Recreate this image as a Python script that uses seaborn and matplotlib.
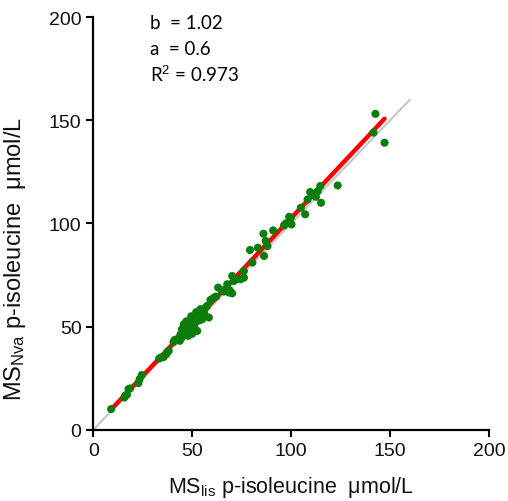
import numpy as np
import pandas as pd
import matplotlib
matplotlib.use("Agg")
import matplotlib.pyplot as plt
import seaborn as sns

# ---- data ----
ms_lis = [9.0, 15.7, 16.1, 17.0, 17.8, 18.6, 22.8, 23.4, 24.5, 33.3, 34.2, 35.5,
          36.9, 38.1, 37.5, 41.1, 42.3, 43.7, 44.8, 40.5,
          44.8, 45.7, 46.5, 47.4, 48.2, 49.1, 49.9, 50.8, 51.6, 52.5, 51.6, 53.3,
          54.1, 55.0, 55.8, 56.7, 58.4, 57.5, 48.0, 50.0, 53.0, 52.0, 54.5, 47.0,
          46.0, 49.5, 51.0, 56.0, 53.5, 44.0,
          59.2, 60.9, 62.0, 63.1, 65.1, 66.8, 68.5, 70.2, 67.7, 66.0, 69.0,
          70.2, 71.1, 74.4, 76.1, 76.1, 72.5,
          79.2, 80.4, 83.2, 86.0, 86.3, 87.1, 88.0, 90.9,
          96.4, 97.3, 99.0, 99.8, 100.2,
          104.9, 107.1, 108.3, 109.6, 112.5, 113.4, 114.7, 115.1, 111.5,
          123.5, 141.6, 142.6, 147.2]
ms_nva = [10.0, 15.6, 16.5, 17.0, 19.7, 20.0, 22.6, 24.5, 26.5, 34.5, 35.0, 35.2,
          36.6, 38.2, 37.8, 43.5, 43.9, 43.1, 44.7, 42.5,
          48.7, 51.1, 47.1, 49.5, 51.9, 48.7, 53.5, 50.3, 55.2, 47.9, 51.9, 56.8,
          58.4, 53.5, 57.6, 59.2, 54.4, 60.0, 45.5, 46.5, 55.0, 57.0, 55.5, 52.5,
          49.0, 55.0, 49.0, 56.5, 53.0, 46.0,
          62.9, 64.0, 64.5, 68.9, 67.3, 68.1, 66.5, 66.1, 70.5, 67.0, 67.5,
          74.5, 72.1, 72.9, 73.7, 76.9, 73.0,
          87.1, 81.0, 88.2, 95.0, 84.2, 91.5, 89.0, 96.6,
          99.0, 100.0, 103.2, 102.7, 99.5,
          107.6, 104.4, 111.6, 115.2, 112.9, 115.6, 118.1, 110.0, 114.0,
          118.4, 144.0, 153.1, 139.1]

slope_b = 1.02
intercept_a = 0.6
r_squared = 0.973
identity_range = [0, 160]

x_ticks = [0, 50, 100, 150, 200]
y_ticks = [0, 50, 100, 150, 200]
annotation_lines = ["b  = 1.02", "a  = 0.6", "R$^{2}$ = 0.973"]

# ---- plot ----
sns.set_style("ticks")
plt.rcParams['font.family'] = ['Liberation Sans', 'DejaVu Sans']
plt.rcParams['mathtext.fontset'] = 'custom'
plt.rcParams['mathtext.rm'] = 'Liberation Sans'
plt.rcParams['mathtext.it'] = 'Liberation Sans'

df = pd.DataFrame({"x": ms_lis, "y": ms_nva})

fig = plt.figure(figsize=(5.08, 5.02), dpi=100)
ax = fig.add_axes([0.1837, 0.142, 0.9626 - 0.1837, 0.964 - 0.142])

ident = pd.DataFrame({"x": identity_range, "y": identity_range})
sns.lineplot(data=ident, x="x", y="y", ax=ax, color="#c8c8c8", linewidth=1.6, zorder=1)

fx = np.array([min(ms_lis), max(ms_lis)])
fit = pd.DataFrame({"x": fx, "y": intercept_a + slope_b * fx})
sns.lineplot(data=fit, x="x", y="y", ax=ax, color="#ff0000", linewidth=3.2, zorder=2)

sns.scatterplot(data=df, x="x", y="y", ax=ax, color="#0a7d0a", s=34,
                edgecolor="none", zorder=3)

ax.set_xlim(0, 200)
ax.set_ylim(0, 200)
ax.set_xticks(x_ticks)
ax.set_yticks(y_ticks)
ax.tick_params(axis="both", labelsize=14, length=5, width=1.5, direction="out",
               color="black", labelcolor="#111111")
for s in ["left", "bottom"]:
    ax.spines[s].set_linewidth(1.6)
    ax.spines[s].set_color("black")
sns.despine(ax=ax)

ax.set_xlabel("MS$_{\\mathrm{lis}}$ p-isoleucine  \u03bcmol/L", fontsize=15.5, color="#111111")
ax.set_ylabel("MS$_{\\mathrm{Nva}}$ p-isoleucine  \u03bcmol/L", fontsize=17, color="#111111")
ax.xaxis.set_label_coords(0.5, -0.107)
ax.yaxis.set_label_coords(-0.165, 0.415)

for i, line in enumerate(annotation_lines):
    ax.text(28.8, 194.9 - i * 13.0, line, fontsize=13.5, family=['Lato', 'DejaVu Sans'],
            va="baseline", ha="left", color="black")

fig.savefig("out.png", dpi=100)
